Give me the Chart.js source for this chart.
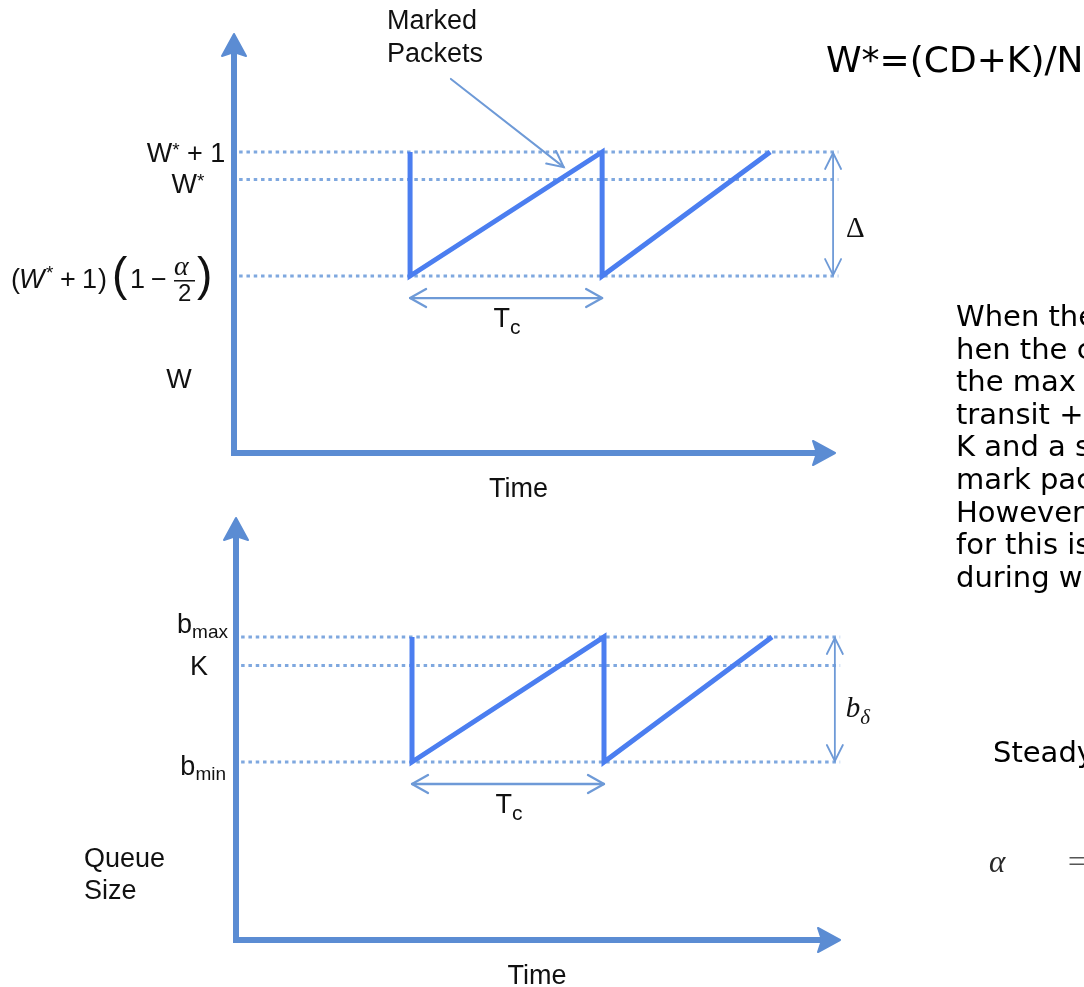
<!DOCTYPE html>
<html>
<head>
<meta charset="utf-8">
<script src="https://cdn.jsdelivr.net/npm/chart.js@4.4.1/dist/chart.umd.min.js"></script>
<style>
  html, body { margin: 0; padding: 0; background: #fff; }
  body { width: 1084px; height: 987px; position: relative; overflow: hidden; }
  canvas { position: absolute; left: 0; }
  #windowChart { top: 0; }
  #queueChart { top: 500px; }
  .txt { position: absolute; white-space: nowrap; font-family: "DejaVu Sans", sans-serif; color: #000; }
  #para { left: 956px; top: 300px; font-size: 29px; line-height: 32.6px; }
</style>
</head>
<body>
<canvas id="windowChart" width="1084" height="510"></canvas>
<canvas id="queueChart" width="1084" height="487"></canvas>

<div class="txt" style="left:826px; top:38px; font-size:36px; line-height:44px;">W*=(CD+K)/N</div>
<div class="txt" id="para">
  <div>When the window size</div>
  <div>hen the congestion</div>
  <div>the max window</div>
  <div>transit + queue</div>
  <div>K and a switch starts</div>
  <div>mark packets</div>
  <div>However, the</div>
  <div>for this is one RTT</div>
  <div>during which</div>
</div>
<div class="txt" style="left:993px; top:736px; font-size:29px; line-height:32.6px;">Steady state</div>
<div class="txt" style="left:989px; top:842px; font-size:31px; line-height:40px; font-family:'Liberation Serif',serif; font-style:italic; color:#2a2a2a;">α</div>
<div class="txt" style="left:1068px; top:842px; font-size:31px; line-height:40px; font-family:'Liberation Serif',serif; color:#555;">=</div>

<script>
// Congestion window of one sender: drops at each mark, then grows linearly for Tc
const windowTimes  = [0, 0, 4, 4, 7.5];
const windowValues = [10, 5.5, 10, 5.5, 10];
// W* + 1, W*, (W* + 1)(1 - α/2)   with W* = 9, α = 0.9
const windowLevels = [10, 9, 5.5];

// Switch queue occupancy over the same cycle
const queueTimes  = [0, 0, 4, 4, 7.5];
const queueValues = [45, 23, 45, 23, 45];
// b_max, K, b_min
const queueLevels = [45, 40, 23];

const windowTimeRange  = [-3.667, 8.85];
const windowValueRange = [-0.92, 14.28];
const queueTimeRange   = [-3.667, 8.917];
const queueValueRange  = [-8.33, 65.94];

const levelLineStart = -3.56;   // dotted guides start just right of the axis
const levelLineEnd   = 8.92;
const bracketTime    = 8.81;    // where the Δ / bδ brackets stand
const markedArrow    = { from: [0.85, 12.65], to: [3.2, 9.45] };

const AXIS_COLOR = '#5b8cd3';
const SAW_COLOR  = '#4b7ef0';
const DOT_COLOR  = '#7fa8df';
const THIN_COLOR = '#6e9ad7';
const SANS = '"Liberation Sans", Arial, sans-serif';
const SERIF = '"Liberation Serif", "Times New Roman", serif';

function solidHead(ctx, tx, ty, dx, dy) {
  const L = 22, H = 12, notch = 4;
  const px = -dy, py = dx;
  const bx = tx - dx * L, by = ty - dy * L;
  ctx.beginPath();
  ctx.moveTo(tx, ty);
  ctx.lineTo(bx + px * H, by + py * H);
  ctx.lineTo(tx - dx * (L - notch), ty - dy * (L - notch));
  ctx.lineTo(bx - px * H, by - py * H);
  ctx.closePath();
  ctx.lineJoin = 'round';
  ctx.lineWidth = 2;
  ctx.fill();
  ctx.stroke();
}

function chevron(ctx, tx, ty, dx, dy, L, H) {
  const px = -dy, py = dx;
  ctx.beginPath();
  ctx.moveTo(tx - dx * L + px * H, ty - dy * L + py * H);
  ctx.lineTo(tx, ty);
  ctx.lineTo(tx - dx * L - px * H, ty - dy * L - py * H);
  ctx.stroke();
}

function rich(ctx, parts, x, y, align) {
  let w = 0;
  for (const p of parts) { ctx.font = p[1]; w += ctx.measureText(p[0]).width + (p[3] || 0); }
  let cx = align === 'right' ? x - w : align === 'center' ? x - w / 2 : x;
  for (const p of parts) {
    ctx.font = p[1];
    ctx.fillText(p[0], cx + (p[3] || 0), y + (p[2] || 0));
    cx += ctx.measureText(p[0]).width + (p[3] || 0);
  }
}

function drawAxes(ctx, a) {
  ctx.save();
  ctx.strokeStyle = AXIS_COLOR;
  ctx.fillStyle = AXIS_COLOR;
  ctx.lineWidth = 6;
  ctx.lineCap = 'butt';
  ctx.beginPath();
  ctx.moveTo(a.left, a.bottom + 3);
  ctx.lineTo(a.left, a.top + 17);
  ctx.moveTo(a.left - 3, a.bottom);
  ctx.lineTo(a.right - 17, a.bottom);
  ctx.stroke();
  solidHead(ctx, a.left, a.top, 0, -1);
  solidHead(ctx, a.right, a.bottom, 1, 0);
  ctx.restore();
}

function drawCycleMarks(chart, times, levels, bracketLabel) {
  const ctx = chart.ctx, xs = chart.scales.x, ys = chart.scales.y;
  const yTop = ys.getPixelForValue(levels[0]);
  const yLow = ys.getPixelForValue(levels[2]);
  ctx.save();
  ctx.strokeStyle = THIN_COLOR;
  ctx.lineCap = 'round';
  ctx.lineJoin = 'round';

  // Tc span under one tooth
  const x1 = xs.getPixelForValue(times[1]);
  const x2 = xs.getPixelForValue(times[2]);
  const yT = yLow + 22;
  ctx.lineWidth = 2.3;
  ctx.beginPath(); ctx.moveTo(x1, yT); ctx.lineTo(x2, yT); ctx.stroke();
  chevron(ctx, x1, yT, -1, 0, 16, 9);
  chevron(ctx, x2, yT, 1, 0, 16, 9);
  ctx.fillStyle = '#111';
  ctx.textAlign = 'left';
  ctx.textBaseline = 'alphabetic';
  rich(ctx, [['T', '27px ' + SANS], ['c', '21px ' + SANS, 7, 0]], (x1 + x2) / 2 + 1, yT + 29, 'center');

  // amplitude bracket on the right
  const xb = xs.getPixelForValue(bracketTime);
  ctx.lineWidth = 1.8;
  ctx.beginPath(); ctx.moveTo(xb, yTop + 1); ctx.lineTo(xb, yLow - 1); ctx.stroke();
  chevron(ctx, xb, yTop + 1, 0, -1, 16, 8);
  chevron(ctx, xb, yLow - 1, 0, 1, 16, 8);
  bracketLabel(ctx, xb, (yTop + yLow) / 2);
  ctx.restore();
}

function baseConfig(times, values, levels, timeRange, valueRange, padding, plugin) {
  const guides = levels.map(v => ({
    data: [{ x: levelLineStart, y: v }, { x: levelLineEnd, y: v }],
    borderColor: DOT_COLOR,
    borderWidth: 3,
    borderDash: [3.5, 3.8],
    pointRadius: 0,
    clip: false,
    order: 2
  }));
  return {
    type: 'line',
    data: {
      datasets: [{
        data: times.map((t, i) => ({ x: t, y: values[i] })),
        borderColor: SAW_COLOR,
        borderWidth: 5,
        borderJoinStyle: 'miter',
        borderCapStyle: 'butt',
        pointRadius: 0,
        tension: 0,
        clip: false,
        order: 1
      }, ...guides]
    },
    options: {
      responsive: false,
      animation: false,
      events: [],
      layout: { padding },
      plugins: { legend: { display: false }, tooltip: { enabled: false } },
      scales: {
        x: { type: 'linear', display: false, min: timeRange[0], max: timeRange[1] },
        y: { type: 'linear', display: false, min: valueRange[0], max: valueRange[1] }
      }
    },
    plugins: [plugin]
  };
}

const F = '27px ' + SANS;

const windowPlugin = {
  id: 'windowDiagram',
  afterDatasetsDraw(chart) {
    const ctx = chart.ctx, a = chart.chartArea, xs = chart.scales.x, ys = chart.scales.y;
    drawAxes(ctx, a);
    drawCycleMarks(chart, windowTimes, windowLevels, (c, x, ym) => {
      c.fillStyle = '#111';
      c.font = '29px ' + SERIF;
      c.fillText('Δ', x + 13, ym + 23);
    });

    ctx.save();
    ctx.fillStyle = '#111';
    ctx.textBaseline = 'alphabetic';
    ctx.textAlign = 'left';
    const y0 = ys.getPixelForValue(windowLevels[0]);
    const y1 = ys.getPixelForValue(windowLevels[1]);
    const y2 = ys.getPixelForValue(windowLevels[2]);
    const FS = '19px ' + SANS;
    rich(ctx, [['W', F], ['*', FS, -6, 0], [' + 1', F]], 186, y0 + 10, 'center');
    rich(ctx, [['W', F], ['*', FS, -6, 0]], 188, y1 + 13, 'center');

    // (W* + 1)(1 − α/2)
    const b = y2 + 12;
    ctx.font = F; ctx.fillText('(', 11, b);
    ctx.font = 'italic ' + F; ctx.fillText('W', 19, b);
    ctx.font = FS; ctx.fillText('*', 46, b - 9);
    ctx.font = F; ctx.fillText('+', 60, b);
    ctx.fillText('1', 82, b);
    ctx.fillText(')', 98, b);
    ctx.font = '46px ' + SANS; ctx.fillText('(', 112, b + 2);
    ctx.font = F; ctx.fillText('1', 130, b);
    ctx.fillText('−', 151, b);
    ctx.font = 'italic 28px ' + SERIF; ctx.fillText('α', 174, b - 13);
    ctx.fillRect(174, b - 8, 21, 1.5);
    ctx.font = '24px ' + SANS; ctx.fillText('2', 178, b + 13);
    ctx.font = '46px ' + SANS; ctx.fillText(')', 197, b + 2);

    ctx.font = F;
    ctx.textAlign = 'center';
    ctx.fillText('W', 179, 388);
    ctx.fillText('Time', (a.left + a.right) / 2 - 16, 497);
    ctx.textAlign = 'left';
    ctx.fillText('Marked', 387, 29);
    ctx.fillText('Packets', 387, 62);

    // pointer to the marked packets on the ramp
    const fx = xs.getPixelForValue(markedArrow.from[0]), fy = ys.getPixelForValue(markedArrow.from[1]);
    const tx = xs.getPixelForValue(markedArrow.to[0]), ty = ys.getPixelForValue(markedArrow.to[1]);
    const len = Math.hypot(tx - fx, ty - fy);
    const dx = (tx - fx) / len, dy = (ty - fy) / len;
    ctx.strokeStyle = THIN_COLOR;
    ctx.lineWidth = 2;
    ctx.lineCap = 'round';
    ctx.beginPath(); ctx.moveTo(fx, fy); ctx.lineTo(tx, ty); ctx.stroke();
    chevron(ctx, tx, ty, dx, dy, 16, 8);
    ctx.restore();
  }
};

const queuePlugin = {
  id: 'queueDiagram',
  afterDatasetsDraw(chart) {
    const ctx = chart.ctx, a = chart.chartArea, ys = chart.scales.y;
    drawAxes(ctx, a);
    drawCycleMarks(chart, queueTimes, queueLevels, (c, x, ym) => {
      c.fillStyle = '#111';
      c.textAlign = 'left';
      rich(c, [['b', 'italic 29px ' + SERIF], ['δ', 'italic 21px ' + SERIF, 7, 0]], x + 11, ym + 18, 'left');
    });

    ctx.save();
    ctx.fillStyle = '#111';
    ctx.textBaseline = 'alphabetic';
    ctx.textAlign = 'left';
    const FS = '19px ' + SANS;
    const y0 = ys.getPixelForValue(queueLevels[0]);
    const y1 = ys.getPixelForValue(queueLevels[1]);
    const y2 = ys.getPixelForValue(queueLevels[2]);
    rich(ctx, [['b', F], ['max', FS, 5, 0]], 228, y0 - 4, 'right');
    ctx.textAlign = 'center';
    ctx.font = F;
    ctx.fillText('K', 199, y1 + 10);
    ctx.textAlign = 'left';
    rich(ctx, [['b', F], ['min', FS, 5, 0]], 226, y2 + 13, 'right');
    ctx.font = F;
    ctx.fillText('Queue', 84, 367);
    ctx.fillText('Size', 84, 399);
    ctx.textAlign = 'center';
    ctx.fillText('Time', (a.left + a.right) / 2 - 1, 484);
    ctx.restore();
  }
};

new Chart(document.getElementById('windowChart'),
  baseConfig(windowTimes, windowValues, windowLevels, windowTimeRange, windowValueRange,
    { left: 234, right: 249, top: 34, bottom: 57 }, windowPlugin));

new Chart(document.getElementById('queueChart'),
  baseConfig(queueTimes, queueValues, queueLevels, queueTimeRange, queueValueRange,
    { left: 236, right: 244, top: 18, bottom: 47 }, queuePlugin));
</script>
</body>
</html>
